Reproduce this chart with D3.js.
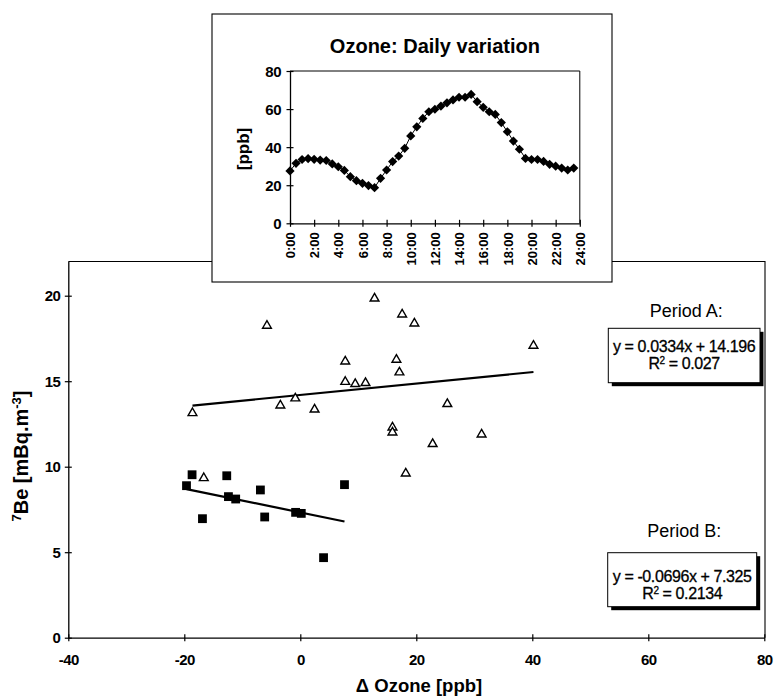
<!DOCTYPE html>
<html>
<head>
<meta charset="utf-8">
<script src="https://cdn.jsdelivr.net/npm/d3@7"></script>
<style>
  html, body { margin: 0; padding: 0; background: #fff; }
  svg { display: block; }
  text { font-family: "Liberation Sans", Arial, Helvetica, sans-serif; fill: #000; }
</style>
</head>
<body>
<svg id="chart" width="776" height="696"></svg>
<script>
// ---------------- DATA ----------------
// Period A (open triangles): Δ Ozone [ppb], 7Be [mBq.m-3]
const periodA_x = [12.8, -5.75, 7.75, 7.75, 9.47, 11.24, -0.86, -3.44, 2.46, -18.59, 15.89, 15.89,
                   17.56, 19.67, 40.2, 16.57, 17.09, 25.35, 31.26, 22.82, 18.18, -16.64];
const periodA_y = [19.88, 18.29, 16.2, 15.01, 14.88, 14.94, 14.04, 13.63, 13.39, 13.18, 12.34, 12.05,
                   18.95, 18.42, 17.12, 16.3, 15.56, 13.71, 11.93, 11.37, 9.65, 9.38];
// Period B (filled squares)
const periodB_x = [-19.62, -18.66, -16.87, -12.68, -12.39, -11.14, -6.88, -6.14, -0.81, 0.17, 4.01, 7.62];
const periodB_y = [8.89, 9.53, 6.96, 9.47, 8.25, 8.11, 8.64, 7.06, 7.33, 7.27, 4.68, 8.95];
// Linear trend lines (slope, intercept) as printed on the chart
const trendA = [0.0334, 14.196];
const trendB = [-0.0696, 7.325];
const eqA = ["y = 0.0334x + 14.196", "0.027"];
const eqB = ["y = -0.0696x + 7.325", "0.2134"];
// Main axes ticks
const mainXTicks = [-40, -20, 0, 20, 40, 60, 80];
const mainYTicks = [0, 5, 10, 15, 20];

// Inset: ozone daily variation (half-hourly)
const ozoneHours = [0,0.5,1,1.5,2,2.5,3,3.5,4,4.5,5,5.5,6,6.5,7,7.5,8,8.5,9,9.5,10,10.5,11,11.5,
                    12,12.5,13,13.5,14,14.5,15,15.5,16,16.5,17,17.5,18,18.5,19,19.5,20,20.5,21,21.5,22,22.5,23,23.5];
const ozoneValues = [27.5,31.5,33.5,34.0,33.6,33.2,33.0,31.2,29.7,27.8,24.5,22.4,21.0,19.8,18.7,23.6,
                     28.0,32.4,35.3,39.4,45.9,50.7,55.1,58.6,59.9,61.6,63.3,64.8,66.2,66.2,67.7,63.9,
                     60.9,58.6,57.2,52.9,48.1,43.2,38.9,34.1,33.5,33.5,32.5,31.0,30.0,29.0,28.0,29.0];
const insetXTicks = [0,2,4,6,8,10,12,14,16,18,20,22,24];
const insetXLabels = ["0:00","2:00","4:00","6:00","8:00","10:00","12:00","14:00","16:00","18:00","20:00","22:00","24:00"];
const insetYTicks = [0, 20, 40, 60, 80];

// ---------------- DRAW ----------------
const svg = d3.select("#chart");

// main scales
const x = d3.scaleLinear().domain([-40, 80]).range([68.3, 764.3]);
const y = d3.scaleLinear().domain([0, 22]).range([637.7, 261.5]);

// plot frame (top & right)
svg.append("path")
  .attr("d", `M${x(-40)},${y(22)}H${x(80)+0.7}V${y(0)}`)
  .attr("fill", "none").attr("stroke", "#000").attr("stroke-width", 1.1);

// X axis
const gx = svg.append("g").attr("transform", `translate(0,${y(0)})`)
  .call(d3.axisBottom(x).tickValues(mainXTicks).tickFormat(d => String(d)).tickSize(0));
gx.select(".domain").attr("stroke-width", 1.3);
gx.selectAll(".tick line").attr("y1", -3.5).attr("y2", 3.5).attr("stroke-width", 1.2);
gx.selectAll(".tick text").attr("y", 22).attr("dy", "0.36em")
  .style("font-size", "15px").style("font-weight", "bold").style("letter-spacing", "-0.6px");

// Y axis
const gy = svg.append("g").attr("transform", `translate(${x(-40)},0)`)
  .call(d3.axisLeft(y).tickValues(mainYTicks).tickFormat(d => String(d)).tickSize(0));
gy.select(".domain").attr("stroke-width", 1.3);
gy.selectAll(".tick line").attr("x1", -3.5).attr("x2", 3.5).attr("stroke-width", 1.2);
gy.selectAll(".tick text").attr("x", -8).attr("dy", "0.35em")
  .style("font-size", "15px").style("font-weight", "bold").style("letter-spacing", "-0.6px");

// axis titles
svg.append("text").attr("x", 419).attr("y", 692).attr("text-anchor", "middle")
  .style("font-size", "18.5px").style("font-weight", "bold")
  .text("Δ Ozone [ppb]");

const yt = svg.append("text").attr("transform", "translate(28,456) rotate(-90)")
  .attr("text-anchor", "middle").style("font-size", "20px").style("font-weight", "bold");
yt.append("tspan").attr("baseline-shift", "super").style("font-size", "13px").text("7");
yt.append("tspan").text("Be [mBq.m");
yt.append("tspan").attr("baseline-shift", "super").style("font-size", "13px").text("-3");
yt.append("tspan").text("]");

// trend lines
function trendLine(xs, coef) {
  const x0 = d3.min(xs), x1 = d3.max(xs);
  return [[x0, coef[0]*x0 + coef[1]], [x1, coef[0]*x1 + coef[1]]];
}
const line = d3.line().x(d => x(d[0])).y(d => y(d[1]));
svg.append("path").attr("d", line(trendLine(periodA_x, trendA)))
  .attr("stroke", "#000").attr("stroke-width", 2.2).attr("fill", "none");
svg.append("path").attr("d", line(trendLine(periodB_x, trendB)))
  .attr("stroke", "#000").attr("stroke-width", 2.2).attr("fill", "none");

// Period A triangles
const triPath = "M0,-4.3L4.4,3.3L-4.4,3.3Z";
svg.append("g").selectAll("path").data(periodA_x.map((v, i) => [v, periodA_y[i]]))
  .join("path")
  .attr("transform", d => `translate(${x(d[0])},${y(d[1])})`)
  .attr("d", triPath)
  .attr("fill", "#fff").attr("stroke", "#000").attr("stroke-width", 1.4)
  .attr("stroke-linejoin", "miter");

// Period B squares
svg.append("g").selectAll("rect").data(periodB_x.map((v, i) => [v, periodB_y[i]]))
  .join("rect")
  .attr("x", d => x(d[0]) - 4.4).attr("y", d => y(d[1]) - 4.4)
  .attr("width", 8.8).attr("height", 8.8).attr("fill", "#000");

// equation boxes
function eqBox(lbl, lblY, bx, by, bw, bh, lines, l1y, l2y) {
  svg.append("text").attr("x", bx + bw/2 + 2).attr("y", lblY).attr("text-anchor", "middle")
    .style("font-size", "18px").text(lbl);
  svg.append("rect").attr("x", bx + 3.5).attr("y", by + 3.5).attr("width", bw).attr("height", bh)
    .attr("fill", "#000");
  svg.append("rect").attr("x", bx).attr("y", by).attr("width", bw).attr("height", bh)
    .attr("fill", "#fff").attr("stroke", "#000").attr("stroke-width", 1);
  svg.append("text").attr("x", bx + bw/2).attr("y", l1y).attr("text-anchor", "middle")
    .style("font-size", "16px").style("letter-spacing", "-0.4px")
    .attr("stroke", "#000").attr("stroke-width", 0.3).text(lines[0]);
  const t2 = svg.append("text").attr("x", bx + bw/2).attr("y", l2y).attr("text-anchor", "middle")
    .style("font-size", "16px").style("letter-spacing", "-0.4px")
    .attr("stroke", "#000").attr("stroke-width", 0.3);
  t2.append("tspan").text("R");
  t2.append("tspan").attr("baseline-shift", "super").style("font-size", "10px").text("2");
  t2.append("tspan").text(" = " + lines[1]);
}
eqBox("Period A:", 316.5, 608.3, 328.3, 151.7, 54.4, eqA, 351.5, 368.5);
eqBox("Period B:", 536.5, 607.7, 552.7, 149, 54, eqB, 581.5, 598.5);

// ---------------- INSET ----------------
svg.append("rect").attr("x", 212).attr("y", 14).attr("width", 400).attr("height", 268)
  .attr("fill", "#fff").attr("stroke", "#000").attr("stroke-width", 1.1);

const ix = d3.scaleLinear().domain([0, 24]).range([290, 579.8]);
const iy = d3.scaleLinear().domain([0, 80]).range([223.3, 71]);

svg.append("path")
  .attr("d", `M${ix(0)},${iy(80)}H${ix(24)}V${iy(0)}`)
  .attr("fill", "none").attr("stroke", "#000").attr("stroke-width", 1);

svg.append("text").attr("x", (ix(0)+ix(24))/2).attr("y", 53).attr("text-anchor", "middle")
  .style("font-size", "20px").style("font-weight", "bold").text("Ozone: Daily variation");

const igx = svg.append("g").attr("transform", `translate(0,${iy(0)})`)
  .call(d3.axisBottom(ix).tickValues(insetXTicks).tickFormat((d, i) => insetXLabels[i]).tickSize(0));
igx.select(".domain").attr("stroke-width", 1.3);
igx.selectAll(".tick line").attr("y1", -3.5).attr("y2", 3.5).attr("stroke-width", 1.2);
igx.selectAll(".tick text").attr("transform", "rotate(-90)").attr("x", -9).attr("y", 0)
  .attr("dy", "0.36em").attr("text-anchor", "end")
  .style("font-size", "13px").style("font-weight", "bold");

const igy = svg.append("g").attr("transform", `translate(${ix(0)},0)`)
  .call(d3.axisLeft(iy).tickValues(insetYTicks).tickSize(0));
igy.select(".domain").attr("stroke-width", 1.3);
igy.selectAll(".tick line").attr("x1", -3.5).attr("x2", 3.5).attr("stroke-width", 1.2);
igy.selectAll(".tick text").attr("x", -9).attr("dy", "0.35em")
  .style("font-size", "15px").style("font-weight", "bold").style("letter-spacing", "-0.5px");

svg.append("text").attr("transform", "translate(243,149) rotate(-90)")
  .attr("text-anchor", "middle").attr("dy", "0.35em")
  .style("font-size", "17px").style("font-weight", "bold").text("[ppb]");

const ozPts = ozoneHours.map((h, i) => [h, ozoneValues[i]]);
svg.append("path").attr("d", d3.line().x(d => ix(d[0])).y(d => iy(d[1]))(ozPts))
  .attr("fill", "none").attr("stroke", "#000").attr("stroke-width", 1);
svg.append("g").selectAll("path").data(ozPts).join("path")
  .attr("transform", d => `translate(${ix(d[0])},${iy(d[1])})`)
  .attr("d", "M0,-4.6L4.6,0L0,4.6L-4.6,0Z").attr("fill", "#000");
</script>
</body>
</html>
